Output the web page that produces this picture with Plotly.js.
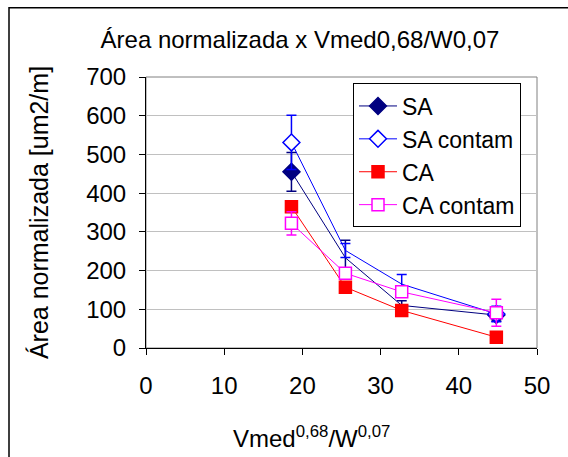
<!DOCTYPE html>
<html>
<head>
<meta charset="utf-8">
<script src="https://cdn.plot.ly/plotly-3.0.1.min.js"></script>
<style>html,body{margin:0;padding:0;background:#fff;}#chart{width:568px;height:457px;}</style>
</head>
<body>
<div id="chart"></div>
<script>
// Data
const xVals = [18.6, 25.5, 32.7, 44.8];
const seriesNames = ["SA", "SA contam", "CA", "CA contam"];
const saVals = [455, 233, 110, 85];
const saErr = [50, 45, 12, 15];
const saContamVals = [531, 252, 165, 88];
const saContamErr = [70, 18, 25, 20];
const caVals = [365, 157, 97, 28];
const caErr = [12, 8, 8, 6];
const caContamVals = [322, 193, 145, 91];
const caContamErr = [30, 10, 10, 35];
const yTicks = [0, 100, 200, 300, 400, 500, 600, 700];
const xTicks = [0, 10, 20, 30, 40, 50];

const FONT = "Arial, 'Liberation Sans', sans-serif";
const CLEAR = "rgba(0,0,0,0)";

function mk(name, y, err, color, symbol, size, fill, hideMid) {
  const hidden = i => hideMid && (i === 1 || i === 2);
  return {
    type: "scatter", mode: "lines+markers", name: name,
    x: xVals, y: y,
    line: {color: color, width: 1},
    marker: {
      symbol: symbol, size: size, opacity: 1,
      color: y.map((v, i) => hidden(i) ? CLEAR : fill),
      line: {color: y.map((v, i) => hidden(i) ? CLEAR : color), width: 1.5}
    },
    error_y: {type: "data", array: err, visible: true, color: color, thickness: 1.5, width: 5},
    legendgroup: name
  };
}

const traces = [
  mk(seriesNames[0], saVals, saErr, "#000080", "diamond", 13, "#000080", true),
  mk(seriesNames[1], saContamVals, saContamErr, "#0000FF", "diamond", 13, "#FFFFFF", true),
  mk(seriesNames[2], caVals, caErr, "#FF0000", "square", 12, "#FF0000", false),
  mk(seriesNames[3], caContamVals, caContamErr, "#FF00FF", "square", 12, "#FFFFFF", false)
];

const L = 146, R = 537, T = 76.5, B = 348;
const W = 568, H = 457;
const px2x = p => (p - L) / (R - L);
const px2y = p => (B - p) / (B - T);

const layout = {
  width: W, height: H,
  margin: {l: L, r: W - R, t: T, b: H - B, pad: 0},
  paper_bgcolor: "#fff", plot_bgcolor: "#fff",
  font: {family: FONT, size: 24, color: "#000"},
  showlegend: true,
  title: {text: "Área normalizada x Vmed0,68/W0,07", font: {family: FONT, size: 24, color: "#000"},
          x: 300 / W, xanchor: "center", xref: "container", y: 1 - 40 / H, yanchor: "middle", yref: "container"},
  xaxis: {
    range: [0, 50], tickvals: xTicks, ticktext: xTicks.map(String),
    showgrid: false, zeroline: false, showline: true, linecolor: "#000", linewidth: 1,
    ticks: "outside", ticklen: 6, tickcolor: "#000", ticklabelstandoff: 10,
    tickfont: {family: FONT, size: 24, color: "#000"}
  },
  yaxis: {
    range: [0, 700], tickvals: yTicks, ticktext: yTicks.map(String),
    showgrid: true, gridcolor: "#c0c0c0", gridwidth: 1, zeroline: false,
    showline: true, linecolor: "#000", linewidth: 1,
    ticks: "outside", ticklen: 6, tickcolor: "#000", ticklabelstandoff: 8,
    tickfont: {family: FONT, size: 24, color: "#000"},
    title: {text: "Área normalizada [um2/m]", font: {family: FONT, size: 25, color: "#000"}, standoff: 30}
  },
  legend: {
    x: px2x(353), y: px2y(83), xanchor: "left", yanchor: "top",
    bgcolor: "#fff", bordercolor: "#000", borderwidth: 1,
    font: {family: FONT, size: 23, color: "#000"},
    tracegroupgap: 0, itemwidth: 38
  },
  annotations: [{
    text: "Vmed<sup>0,68</sup>/W<sup>0,07</sup>", xref: "paper", yref: "paper",
    x: px2x(311), y: px2y(437), xanchor: "center", yanchor: "middle", showarrow: false,
    font: {family: FONT, size: 24, color: "#000"}
  }],
  shapes: [
    {type: "rect", xref: "paper", yref: "paper", x0: 0, x1: 1, y0: 0, y1: 1,
     line: {color: "#808080", width: 1}, layer: "below"},
    {type: "rect", xref: "paper", yref: "paper", x0: px2x(9), x1: px2x(575), y0: px2y(7), y1: px2y(465),
     line: {color: "#000", width: 1.5}, fillcolor: "rgba(0,0,0,0)"}
  ]
};

Plotly.newPlot("chart", traces, layout, {displayModeBar: false, staticPlot: true});
</script>
</body>
</html>
